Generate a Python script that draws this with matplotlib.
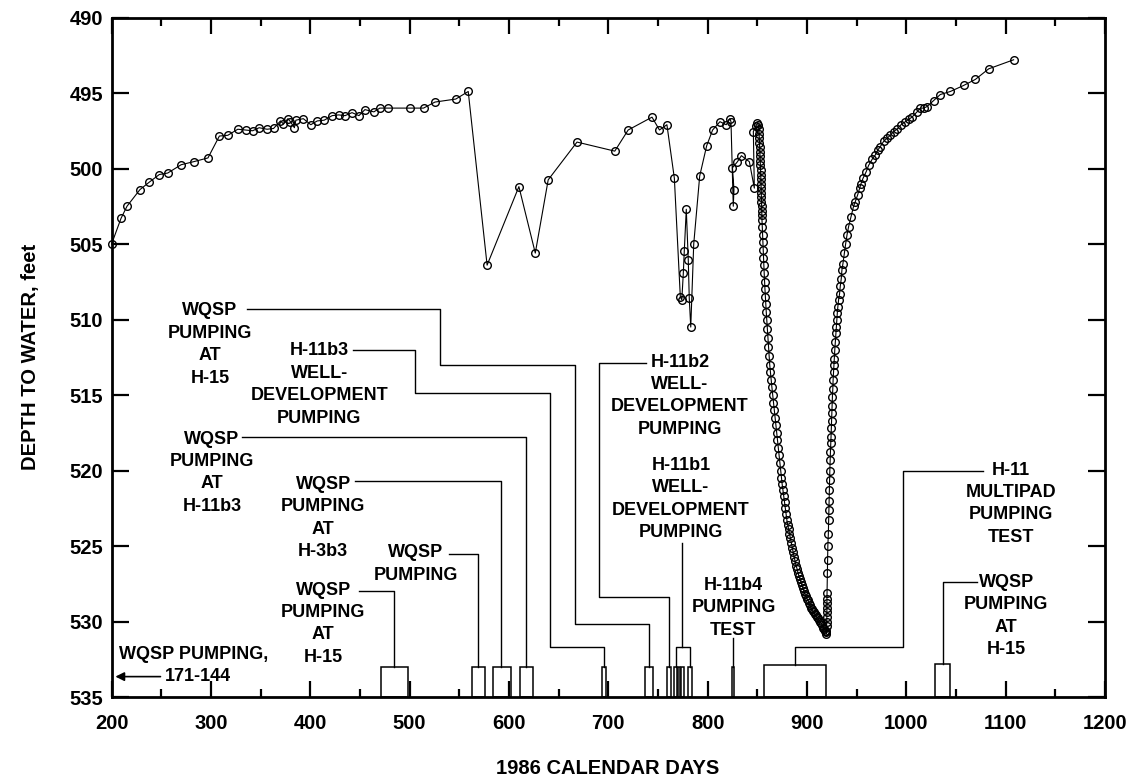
import matplotlib
matplotlib.use("Agg")
import matplotlib.pyplot as plt
from matplotlib.patches import Rectangle
from matplotlib.ticker import MultipleLocator

plt.rcParams["font.family"] = ["Liberation Sans", "DejaVu Sans"]
plt.rcParams["font.weight"] = "bold"

# water levels before the H-11 multipad test
EARLY_DAYS = [200, 209.5, 215.5, 228.5, 238, 248, 256.5, 270, 282.5, 297, 308.5, 317, 327, 335, 342,
              348.5, 356.5, 363, 370, 373, 377.5, 380, 384, 385.5, 393, 400.5, 407, 414, 422, 428.5,
              435, 442, 449, 455, 464, 470, 478, 500.5, 514, 525.5, 546.5, 559, 578, 610, 626.5,
              639.5, 668.5, 706.5, 720, 744, 751.5, 759, 766.5, 772.5, 774, 775.5, 776.5, 778.5,
              780.5, 781.5, 783, 786, 792, 799, 805, 812.4, 818.7, 822.4, 823.5, 825.8, 826.5, 825,
              830, 834, 842, 847, 846, 848.5, 850, 851, 851.5, 851.8]
EARLY_DEPTH = [505.0, 503.3, 502.5, 501.4, 500.9, 500.4, 500.3, 499.75, 499.55, 499.3, 497.85, 497.8,
               497.4, 497.45, 497.5, 497.3, 497.4, 497.35, 496.85, 497.05, 496.7, 496.9, 497.3, 496.8,
               496.7, 497.1, 496.85, 496.8, 496.5, 496.45, 496.5, 496.3, 496.5, 496.1, 496.25, 496.0,
               496.0, 496.0, 496.0, 495.6, 495.4, 494.9, 506.4, 501.2, 505.6, 500.75, 498.25, 498.85,
               497.45, 496.6, 497.45, 497.1, 500.65, 508.5, 508.7, 506.95, 505.45, 502.7, 506.05,
               508.6, 510.5, 505.0, 500.5, 498.5, 497.45, 496.9, 497.1, 496.7, 496.9, 502.5, 501.4,
               499.95, 499.55, 499.15, 499.55, 501.3, 497.55, 497.2, 497.0, 497.1, 497.4, 497.7]

# drawdown during the multipad pumping test
DRAWDOWN_DAYS = [852.0, 852.2, 852.4, 852.6, 852.8, 853.0, 853.1, 853.3, 853.4, 853.6, 853.7, 853.9,
                 854.0, 854.1, 854.2, 854.4, 854.5, 854.6, 854.7, 855.0, 855.3, 855.6, 855.9, 856.2,
                 856.5, 856.9, 857.3, 857.7, 858.1, 858.6, 859.0, 859.5, 860.0, 860.6, 861.2, 861.8,
                 862.5, 863.2, 864.0, 864.7, 865.5, 866.2, 867.0, 867.8, 868.6, 869.4, 870.2, 871.0,
                 871.8, 872.6, 873.4, 874.2, 875.0, 875.8, 876.6, 877.4, 878.2, 879.0, 879.8, 880.6,
                 881.5, 882.4, 883.3, 884.2, 885.1, 886.0, 887.0, 888.0, 889.0, 890.0, 891.0, 892.0,
                 893.0, 894.0, 895.0, 896.0, 897.0, 898.0, 899.0, 900.0, 901.0, 902.0, 903.0, 904.0,
                 905.0, 906.0, 907.0, 908.0, 909.0, 910.0, 911.0, 912.0, 913.0, 914.0, 915.0, 916.0,
                 917.0, 918.0, 919.0, 919.5]
DRAWDOWN_DEPTH = [498.0, 498.3, 498.6, 498.9, 499.2, 499.5, 499.8, 500.1, 500.4, 500.7, 501.0, 501.3,
                  501.6, 501.9, 502.2, 502.5, 502.8, 503.1, 503.4, 503.9, 504.4, 504.9, 505.4, 505.9,
                  506.4, 506.9, 507.5, 508.0, 508.5, 509.0, 509.5, 510.0, 510.6, 511.2, 511.8, 512.4,
                  513.0, 513.5, 514.0, 514.5, 515.0, 515.5, 516.0, 516.5, 517.0, 517.5, 518.0, 518.5,
                  519.0, 519.5, 520.0, 520.5, 520.9, 521.3, 521.7, 522.1, 522.5, 522.9, 523.3, 523.6,
                  523.9, 524.2, 524.5, 524.8, 525.1, 525.4, 525.7, 526.0, 526.3, 526.5, 526.8, 527.0,
                  527.2, 527.4, 527.6, 527.8, 528.0, 528.2, 528.3, 528.5, 528.6, 528.8, 528.9, 529.1,
                  529.2, 529.3, 529.4, 529.5, 529.6, 529.7, 529.8, 529.9, 530.0, 530.1, 530.2, 530.4,
                  530.5, 530.6, 530.7, 530.8]

# recovery after pumping stopped
RECOVERY_DAYS = [919.6, 919.8, 920.0, 920.0, 920.0, 920.0, 920.0, 920.1, 920.2, 920.5, 920.8, 921.0,
                 921.5, 921.8, 922.0, 922.3, 922.5, 922.8, 923.0, 923.3, 923.6, 924.0, 924.2, 924.5,
                 924.8, 925.0, 925.3, 925.6, 926.0, 926.3, 926.7, 927.0, 927.5, 928.0, 928.5, 929.0,
                 929.5, 930.0, 930.5, 931.0, 931.8, 932.8, 933.5, 934.5, 935.2, 936.2, 937.6, 938.9,
                 940.3, 941.9, 944.3, 946.9, 948.6, 951.0, 953.0, 954.4, 956.4, 959.7, 962.0, 965.5,
                 968.8, 971.1, 973.8, 977.2, 980.6, 983.9, 987.2, 990.6, 994.7, 999.0, 1002.3, 1005.7,
                 1010.8, 1014.1, 1017.4, 1020.8, 1027.5, 1034.2, 1044.3, 1057.7, 1069.5, 1082.9, 1108.0]
RECOVERY_DEPTH = [530.6, 530.3, 530.0, 529.7, 529.4, 529.1, 528.8, 528.5, 528.1, 526.8, 525.9, 525.0,
                  524.2, 523.3, 522.6, 522.0, 521.3, 520.6, 520.0, 519.3, 518.8, 518.2, 517.8, 517.2,
                  516.7, 516.2, 515.7, 515.1, 514.6, 514.0, 513.5, 513.0, 512.6, 512.0, 511.5, 510.9,
                  510.5, 510.0, 509.6, 509.2, 508.7, 508.3, 507.8, 507.3, 506.7, 506.3, 505.6, 505.0,
                  504.4, 503.85, 503.2, 502.5, 502.2, 501.75, 501.3, 501.0, 500.65, 500.2, 499.8, 499.4,
                  499.1, 498.8, 498.55, 498.2, 498.0, 497.8, 497.55, 497.4, 497.1, 496.9, 496.75, 496.6,
                  496.25, 496.0, 496.0, 495.9, 495.5, 495.1, 494.9, 494.5, 494.1, 493.4, 492.8]

# pumping periods drawn as boxes on the axis
PERIOD_START = [471, 563, 584, 611, 694, 737, 759, 766.4, 769.7, 773.1, 779.8, 825, 856.3, 1029.2]
PERIOD_END = [498, 576, 602, 624, 698, 744.5, 763, 769.1, 772.4, 775.7, 783.8, 827, 919.4, 1043.6]
PERIOD_TOP = [533.0, 533.0, 533.0, 533.0, 533.0, 533.0, 533.0, 533.0, 533.0, 533.0, 533.0, 533.0, 532.9, 532.8]

LABELS = [
    "WQSP\nPUMPING\nAT\nH-15",
    "H-11b3\nWELL-\nDEVELOPMENT\nPUMPING",
    "WQSP\nPUMPING\nAT\nH-11b3",
    "WQSP\nPUMPING\nAT\nH-3b3",
    "WQSP\nPUMPING",
    "WQSP\nPUMPING\nAT\nH-15",
    "H-11b2\nWELL-\nDEVELOPMENT\nPUMPING",
    "H-11b1\nWELL-\nDEVELOPMENT\nPUMPING",
    "H-11b4\nPUMPING\nTEST",
    "H-11\nMULTIPAD\nPUMPING\nTEST",
    "WQSP\nPUMPING\nAT\nH-15",
]
LABEL_X = [299, 409, 301, 413, 506, 413, 772, 773, 826, 1105, 1100.5]
LABEL_Y = [511.65, 514.3, 520.15, 523.15, 526.2, 530.15, 515.05, 521.9, 529.1, 522.2, 529.65]

LEADERS = [
    ([336, 530.5, 530.5, 666.5, 666.5, 740.5, 740.5], [509.3, 509.3, 513.0, 513.0, 530.15, 530.15, 533.0]),
    ([443, 505, 505, 641, 641, 696, 696], [512.0, 512.0, 514.9, 514.9, 531.7, 531.7, 533.0]),
    ([331, 617, 617], [517.76, 517.76, 533.0]),
    ([445, 591.5, 591.5], [520.7, 520.7, 533.0]),
    ([539.5, 569, 569], [525.5, 525.5, 533.0]),
    ([449.5, 484.5, 484.5], [528.0, 528.0, 533.0]),
    ([738, 691, 691, 761, 761], [512.9, 512.9, 528.4, 528.4, 533.0]),
    ([774, 774], [524.8, 531.7]),
    ([767.7, 767.7, 781.8, 781.8], [533.0, 531.7, 531.7, 533.0]),
    ([826, 826], [531.1, 533.0]),
    ([887.5, 887.5, 997, 997, 1077.5], [532.9, 531.7, 531.7, 520.0, 520.0]),
    ([1071, 1037, 1037], [527.4, 527.4, 532.8]),
]

W, H = 1137, 779
fig = plt.figure(figsize=(W / 100, H / 100), dpi=100)
ax = fig.add_axes([111.6 / W, 1 - 697 / H, (1105 - 111.6) / W, (697 - 17.5) / H])

days = EARLY_DAYS + DRAWDOWN_DAYS + RECOVERY_DAYS
depth = EARLY_DEPTH + DRAWDOWN_DEPTH + RECOVERY_DEPTH
ax.plot(days, depth, color="black", lw=0.8, marker="o", ms=5.5, mfc="none", mec="black", mew=1.0,
        clip_on=False, zorder=3)

for x0, x1, top in zip(PERIOD_START, PERIOD_END, PERIOD_TOP):
    ax.add_patch(Rectangle((x0, 535), x1 - x0, top - 535, fill=False, ec="black", lw=1.1, zorder=2))

for xs, ys in LEADERS:
    ax.plot(xs, ys, color="black", lw=1.0, zorder=2)

for txt, x, y in zip(LABELS, LABEL_X, LABEL_Y):
    ax.text(x, y, txt, ha="center", va="center", multialignment="center", fontsize=13,
            fontweight="bold", linespacing=1.42, zorder=4)

ax.text(207, 532.2, "WQSP PUMPING,", ha="left", va="center", fontsize=13, fontweight="bold")
ax.text(254, 533.65, "171-144", ha="left", va="center", fontsize=13, fontweight="bold")
ax.annotate("", xy=(201, 533.65), xytext=(252, 533.65),
            arrowprops=dict(arrowstyle="-|>", color="black", lw=1.2, mutation_scale=13))

ax.set_xlim(200, 1200)
ax.set_ylim(535, 490)
ax.xaxis.set_major_locator(MultipleLocator(100))
ax.xaxis.set_minor_locator(MultipleLocator(50))
ax.yaxis.set_major_locator(MultipleLocator(5))
ax.tick_params(axis="x", which="major", direction="in", length=11.5, width=1.6, top=True,
               labelsize=14.5, pad=12)
ax.tick_params(axis="x", which="minor", direction="in", length=6, width=1.6, top=True)
ax.tick_params(axis="y", which="major", direction="in", length=12.5, width=1.6, right=True,
               labelsize=14.5, pad=6)
for s in ax.spines.values():
    s.set_linewidth(2.0)

fig.text(608 / W, 1 - 768 / H, "1986 CALENDAR DAYS", ha="center", va="center", fontsize=14.5,
         fontweight="bold")
fig.text(31 / W, 1 - 357 / H, "DEPTH TO WATER, feet", ha="center", va="center", rotation=90,
         fontsize=14.5, fontweight="bold")

fig.savefig("out.png", dpi=100)
